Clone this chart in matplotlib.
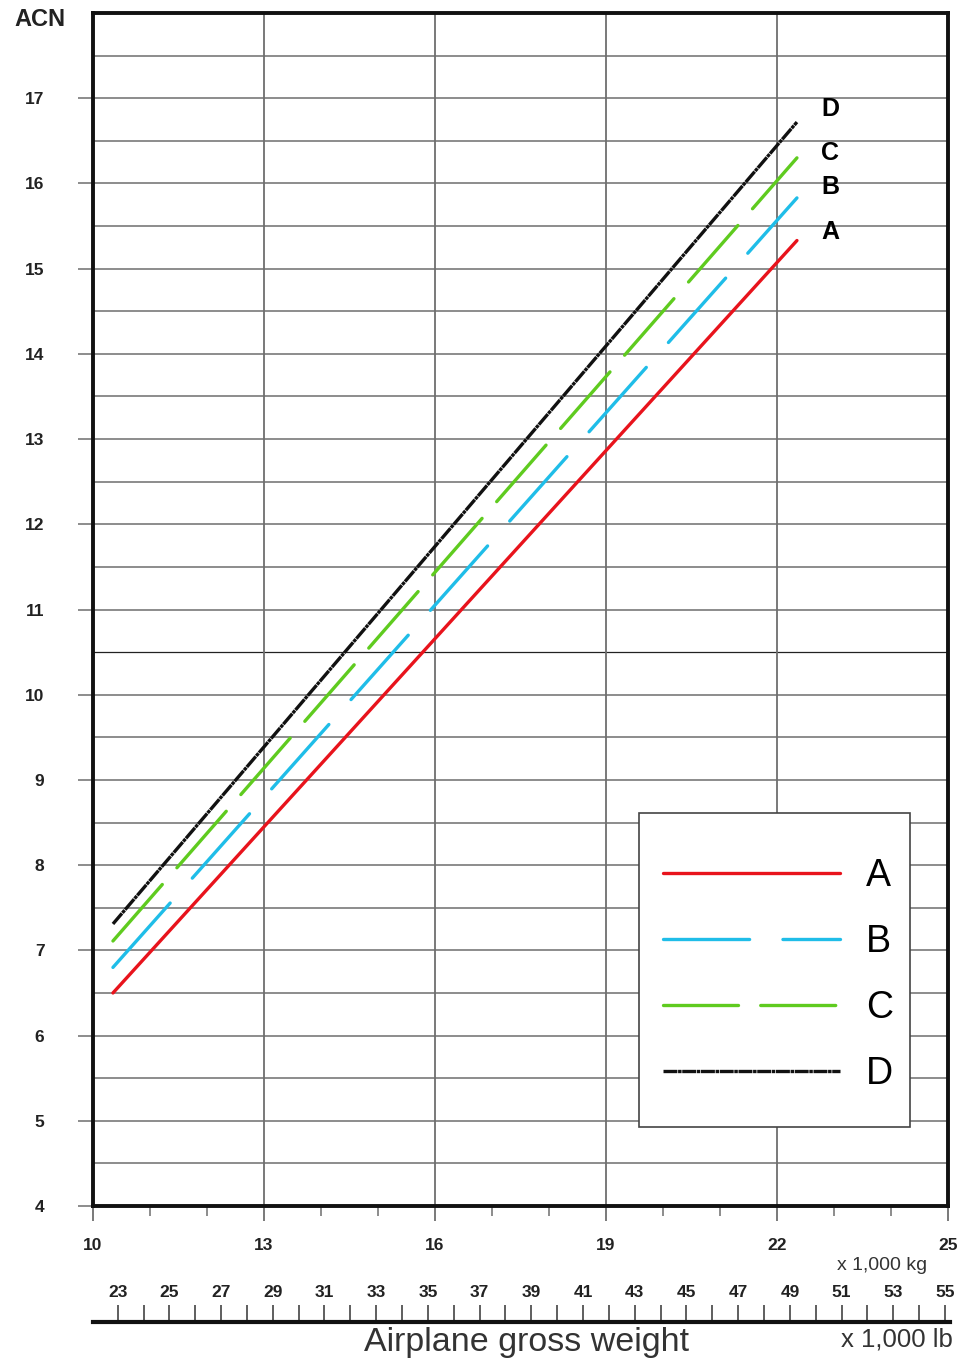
import matplotlib
matplotlib.use("Agg")
import matplotlib.pyplot as plt
from matplotlib.patches import Rectangle
import numpy as np

plt.rcParams['font.family'] = ['Liberation Sans', 'DejaVu Sans']
plt.rcParams['lines.scale_dashes'] = False

# ---- data ----
weight_kg = [10.35, 22.35]
acn_A = [6.5, 15.33]
acn_B = [6.8, 15.83]
acn_C = [7.11, 16.3]
acn_D = [7.31, 16.72]
series_names = ["A", "B", "C", "D"]
kg_major_ticks = [10, 13, 16, 19, 22, 25]
kg_minor_ticks = list(range(10, 26))
acn_ticks = list(range(4, 18))
lb_ticks = list(range(23, 56))
lb_labels = list(range(23, 56, 2))
KG_TO_LB = 2.20462

W, H = 960, 1364
fig = plt.figure(figsize=(W / 100, H / 100), dpi=100)

def fx(px):
    return px / W

def fy(py):
    return 1 - py / H

L, R, T, B_ = 93, 948, 13, 1206
ax = fig.add_axes([fx(L), fy(B_), (R - L) / W, (B_ - T) / H])
ax.set_xlim(10, 25)
ax.set_ylim(4, 18)

def axx(px):
    return (px - L) / (R - L)

def axy(py):
    return (B_ - py) / (B_ - T)

grid_c = '#6e6e6e'
for y in np.arange(4.5, 18, 0.5):
    if abs(y - 10.5) < 1e-9:
        ax.axhline(y, color='#222222', lw=0.9, zorder=1)
    else:
        ax.axhline(y, color=grid_c, lw=1.1, zorder=1)
for x in kg_major_ticks[1:-1]:
    ax.axvline(x, color=grid_c, lw=1.3, zorder=1)

lw = 2.4
ax.plot(weight_kg, acn_A, color='#e8131c', lw=lw, solid_capstyle='round', zorder=3, label='A')
ax.plot(weight_kg, acn_B, color='#1fbde8', lw=lw, dashes=(62, 24), dash_capstyle='round', zorder=3, label='B')
ax.plot(weight_kg, acn_C, color='#5fcb1f', lw=lw, dashes=(54, 16), dash_capstyle='round', zorder=3, label='C')
ax.plot(weight_kg, acn_D, color='#111111', lw=lw, dashes=(10, 0.5, 2.5, 0.5), zorder=4, label='D')

# line end labels
end_label_y = {"D": 16.87, "C": 16.36, "B": 15.96, "A": 15.43}
for name in series_names:
    ax.text(22.93, end_label_y[name], name, fontsize=18, fontweight='bold',
            ha='center', va='center', zorder=5)

for s in ax.spines.values():
    s.set_linewidth(2.8)
    s.set_color('#111111')
    s.set_zorder(6)

ax.set_yticks(acn_ticks)
ax.set_yticklabels([str(v) for v in acn_ticks], fontsize=12.5, fontweight='bold', color='#222222')
ax.tick_params(axis='y', length=11, width=1.1, color=grid_c, pad=24)

ax.set_xticks(kg_major_ticks)
ax.set_xticklabels([str(v) for v in kg_major_ticks], fontsize=12.5, fontweight='bold', color='#222222')
ax.set_xticks(kg_minor_ticks, minor=True)
ax.tick_params(axis='x', which='major', length=11, width=1.3, color=grid_c, pad=12)
ax.tick_params(axis='x', which='minor', length=7, width=1.1, color=grid_c)

# legend box (frame drawn separately)
frame = Rectangle((axx(639), axy(1127)), axx(910) - axx(639), axy(813) - axy(1127),
                  transform=ax.transAxes, facecolor='white', edgecolor='#444444',
                  lw=1.2, zorder=6.5)
ax.add_patch(frame)
leg = ax.legend(loc='upper left', bbox_to_anchor=(axx(663), axy(858)),
                borderaxespad=0, fontsize=27, handlelength=4.72, handletextpad=0.69,
                borderpad=0, labelspacing=0.80, frameon=False)
leg.set_zorder(7)

# ---- lb axis ----
ax2 = fig.add_axes([fx(L), fy(1322), (950 - L) / W, 0.02])
frac = (950 - L) / (R - L)
ax2.set_xlim(10 * KG_TO_LB, 10 * KG_TO_LB + 15 * KG_TO_LB * frac)
ax2.set_ylim(0, 1)
for k in ['top', 'left', 'right']:
    ax2.spines[k].set_visible(False)
ax2.spines['bottom'].set_linewidth(3)
ax2.spines['bottom'].set_color('#111111')
ax2.set_yticks([])
ax2.set_xticks(lb_ticks)
ax2.tick_params(axis='x', direction='in', length=12, width=1.1, color='#333333', labelbottom=False)
ax2.patch.set_alpha(0)
for v in lb_labels:
    ax2.text(v, 1.07, str(v), fontsize=12.5, fontweight='bold', color='#222222',
             ha='center', va='center', transform=ax2.get_xaxis_transform())

fig.text(fx(40), fy(20), 'ACN', fontsize=17, fontweight='bold', ha='center', va='center', color='#222222')
fig.text(fx(882), fy(1266), 'x 1,000 kg', fontsize=14, ha='center', va='center', color='#333333')
fig.text(fx(897), fy(1340), 'x 1,000 lb', fontsize=18.5, ha='center', va='center', color='#333333')
fig.text(fx(527), fy(1343), 'Airplane gross weight', fontsize=24.5, ha='center', va='center', color='#333333')

fig.savefig('out.png', dpi=100)
